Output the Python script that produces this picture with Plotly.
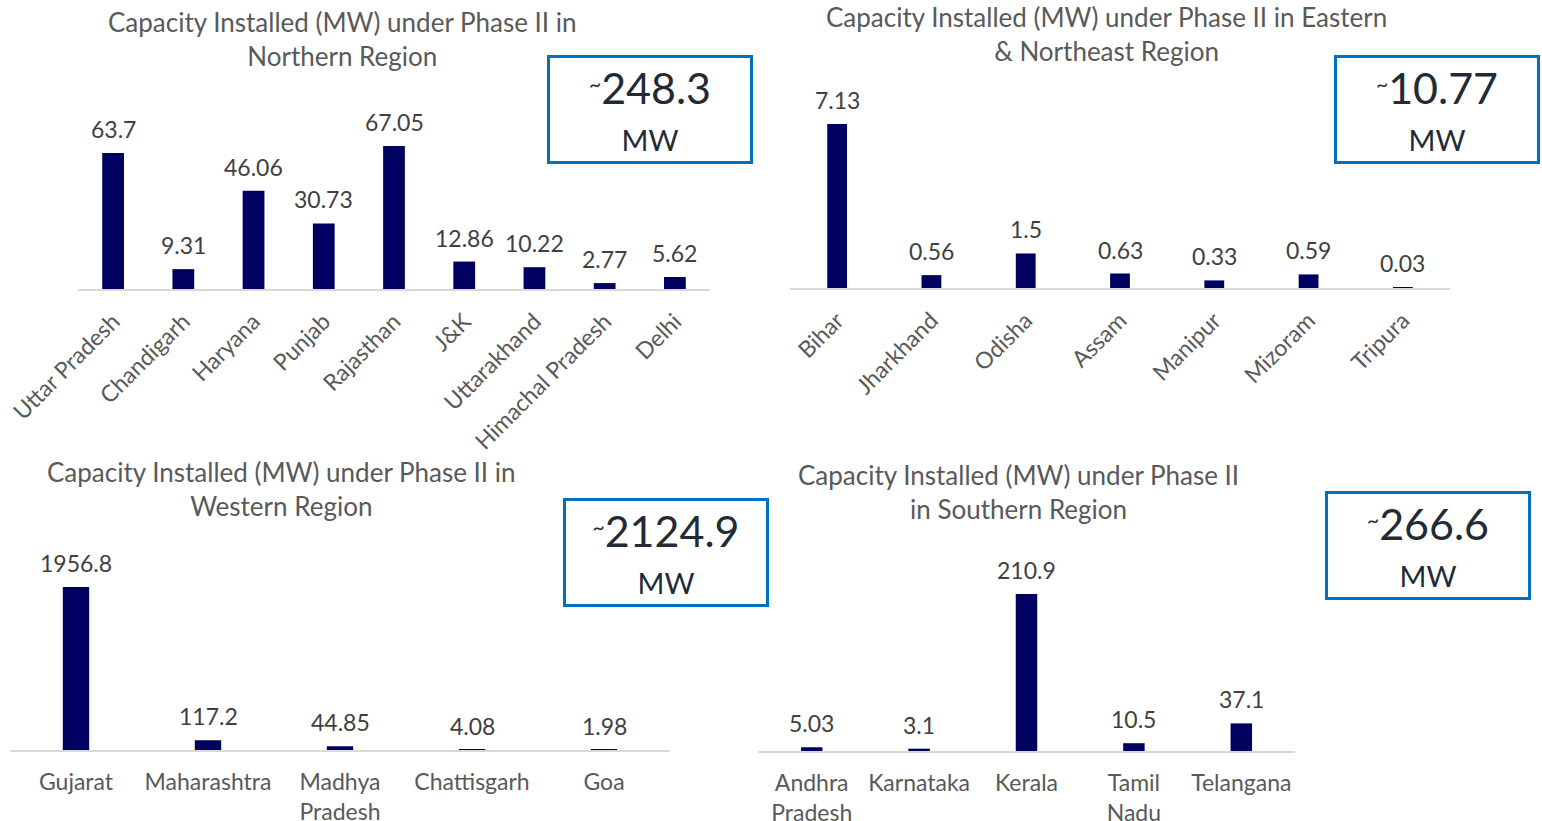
import plotly.graph_objects as go

# Northern region
north_states = ['Uttar Pradesh', 'Chandigarh', 'Haryana', 'Punjab', 'Rajasthan',
                'J&K', 'Uttarakhand', 'Himachal Pradesh', 'Delhi']
north_mw = [63.7, 9.31, 46.06, 30.73, 67.05, 12.86, 10.22, 2.77, 5.62]
north_total = '248.3'

# Eastern & Northeast region
east_states = ['Bihar', 'Jharkhand', 'Odisha', 'Assam', 'Manipur', 'Mizoram', 'Tripura']
east_mw = [7.13, 0.56, 1.5, 0.63, 0.33, 0.59, 0.03]
east_total = '10.77'

# Western region
west_states = ['Gujarat', 'Maharashtra', 'Madhya<br>Pradesh', 'Chattisgarh', 'Goa']
west_mw = [1956.8, 117.2, 44.85, 4.08, 1.98]
west_total = '2124.9'

# Southern region
south_states = ['Andhra<br>Pradesh', 'Karnataka', 'Kerala', 'Tamil<br>Nadu', 'Telangana']
south_mw = [5.03, 3.1, 210.9, 10.5, 37.1]
south_total = '266.6'

W, H = 1542, 821
FONT = 'Lato'
BAR = '#000060'
TXT = '#595959'
LBL = '#404040'
BOX = '#0070C0'


def px_x(p):
    return p / W


def px_y(p):
    return 1 - p / H


panels = [
    dict(states=north_states, vals=north_mw, total=north_total,
         title='Capacity Installed (MW) under Phase II in<br>Northern Region',
         xr=(78, 710), yr=(100, 289), ymax=88.6, bw=0.31, angle=-45,
         tpos=(342, 38.5), bpos=(649.5, 109.5)),
    dict(states=east_states, vals=east_mw, total=east_total,
         title='Capacity Installed (MW) under Phase II in Eastern<br>& Northeast Region',
         xr=(790, 1450), yr=(100, 288), ymax=8.17, bw=0.21, angle=-45,
         tpos=(1106, 33.5), bpos=(1437, 109.5)),
    dict(states=west_states, vals=west_mw, total=west_total,
         title='Capacity Installed (MW) under Phase II in<br>Western Region',
         xr=(10, 670), yr=(560, 750), ymax=2281, bw=0.2, angle=0,
         tpos=(281, 489.5), bpos=(665.5, 552.5)),
    dict(states=south_states, vals=south_mw, total=south_total,
         title='Capacity Installed (MW) under Phase II<br>in Southern Region',
         xr=(758, 1295), yr=(560, 751), ymax=256.7, bw=0.2, angle=0,
         tpos=(1018, 491.5), bpos=(1427.5, 545)),
]

fig = go.Figure()
annotations = []

for i, p in enumerate(panels, start=1):
    xa = 'x' if i == 1 else f'x{i}'
    ya = 'y' if i == 1 else f'y{i}'
    fig.add_trace(go.Bar(x=p['states'], y=p['vals'], xaxis=xa, yaxis=ya,
                         marker=dict(color=BAR, line=dict(width=0)),
                         width=p['bw'], showlegend=False, hoverinfo='x+y'))

    key = '' if i == 1 else str(i)
    fig.update_layout({
        f'xaxis{key}': dict(domain=[px_x(p['xr'][0]), px_x(p['xr'][1])], anchor=ya,
                            showline=True, linecolor='#D9D9D9', linewidth=2,
                            showgrid=False, zeroline=False, ticks='',
                            automargin=False,
                            tickangle=p['angle'],
                            ticklabelstandoff=8 if p['angle'] else 10,
                            tickfont=dict(family=FONT, size=23, color=TXT)),
        f'yaxis{key}': dict(domain=[px_y(p['yr'][1]), px_y(p['yr'][0])], anchor=xa,
                            range=[0, p['ymax']], visible=False, showgrid=False,
                            automargin=False),
    })

    # data labels
    for s, v in zip(p['states'], p['vals']):
        annotations.append(dict(x=s, y=v, xref=xa, yref=ya, text=f'{v:g}',
                                showarrow=False, yanchor='bottom', yshift=8,
                                font=dict(family=FONT, size=23, color=LBL)))

    # panel title
    annotations.append(dict(x=px_x(p['tpos'][0]), y=px_y(p['tpos'][1]),
                            xref='paper', yref='paper', text=p['title'],
                            showarrow=False, xanchor='center', yanchor='middle',
                            font=dict(family=FONT, size=26, color=TXT)))

    # total box
    annotations.append(dict(x=px_x(p['bpos'][0]), y=px_y(p['bpos'][1]),
                            xref='paper', yref='paper',
                            text=(f"<span style='font-size:30px'><sup>~</sup></span>"
                                  f"<span style='font-size:43px'>{p['total']}</span>"
                                  "<br><span style='font-size:29px'>MW</span>"),
                            showarrow=False, xanchor='center', yanchor='middle',
                            width=200, height=103, borderpad=0, borderwidth=3,
                            bordercolor=BOX, bgcolor='white',
                            font=dict(family=FONT, size=36, color='#222A35')))

fig.update_layout(width=W, height=H, margin=dict(l=0, r=0, t=0, b=0),
                  paper_bgcolor='white', plot_bgcolor='white',
                  annotations=annotations, showlegend=False)

# drop the default page margin so the figure fills the window exactly
fig.write_html("out.html", config={'displayModeBar': False},
               post_script="document.body.style.margin='0';"
                           "document.body.style.overflow='hidden';")
